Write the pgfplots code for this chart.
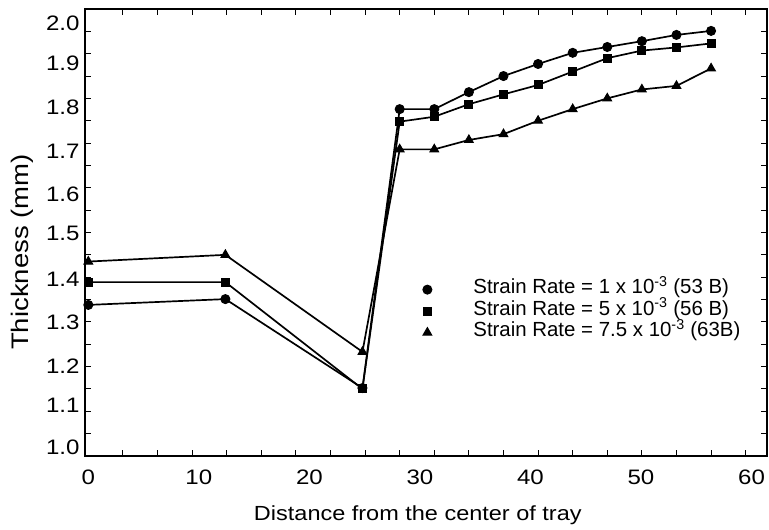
\documentclass[border=0pt]{standalone}
\usepackage{fontspec}
\setmainfont{Liberation Sans}
\newfontfamily\wide{Liberation Sans}[FakeStretch=1.15]
\usepackage{pgfplots}
\pgfplotsset{compat=1.18}
\begin{document}
\begin{tikzpicture}
\begin{axis}[
  scale only axis, width=682bp, height=447bp,
  xmin=-0.3, xmax=61.4, ymin=1.0, ymax=2.0,
  xtick={0,10,20,30,40,50,60},
  major x tick style={draw=none},
  minor xtick={3.13,6.26,9.39,12.52,15.65,18.78,21.91,25.04,28.17,31.3,34.43,37.56,40.69,43.82,46.95,50.08,53.21,56.34,59.47},
  ytick={1.019,1.113,1.202,1.299,1.395,1.497,1.586,1.682,1.780,1.879,1.969},
  yticklabels={1.0,1.1,1.2,1.3,1.4,1.5,1.6,1.7,1.8,1.9,2.0},
  major y tick style={draw=none},
  minor ytick={1.0,1.05,1.1,1.15,1.2,1.25,1.3,1.35,1.4,1.45,1.5,1.55,1.6,1.65,1.7,1.75,1.8,1.85,1.9,1.95,2.0},
  minor tick style={line width=1pt, black},
  minor tick length=6bp, major tick length=6bp,
  axis line style={line width=1.6pt},
  tick label style={font=\wide\fontsize{21}{21}\selectfont},
  /pgf/number format/assume math mode=true,
  yticklabel style={xshift=-2bp},
  xticklabel style={yshift=-10bp},
  xlabel={Distance from the center of tray},
  xlabel style={font=\wide\fontsize{20.5}{24}\selectfont, at={(axis description cs:0.488,0)}, anchor=base, yshift=-64bp},
  ylabel={Thickness (mm)},
  ylabel style={font=\wide\fontsize{24}{26}\selectfont, at={(axis description cs:0,0.456)}, anchor=base, yshift=56bp},
  legend style={draw=none, fill=none, at={(axis description cs:0.49,0.405)}, anchor=north west,
    font=\fontsize{20.5}{22}\selectfont, row sep=0.5bp, inner sep=0pt,
    nodes={inner sep=1bp, anchor=base west}},
  legend cell align=left,
  legend image code/.code={\path[draw=none] (0bp,0bp) -- (53bp,0bp); \draw[#1] plot coordinates {(8bp,4bp)};},
]
\addplot[black, line width=1.7pt, mark=*, mark size=4.5bp, mark options={fill=black, line width=1pt}] coordinates {
(0,1.338) (12.4,1.351) (24.8,1.152) (28.17,1.776) (31.3,1.776) (34.43,1.814) (37.56,1.850) (40.69,1.877) (43.82,1.902) (46.95,1.915) (50.08,1.928) (53.21,1.942) (56.34,1.951)
};
\addplot[black, line width=1.7pt, mark=square*, mark size=4bp, mark options={fill=black, line width=1pt}] coordinates {
(0,1.389) (12.4,1.389) (24.8,1.150) (28.17,1.748) (31.3,1.759) (34.43,1.787) (37.56,1.809) (40.69,1.830) (43.82,1.860) (46.95,1.890) (50.08,1.907) (53.21,1.914) (56.34,1.923)
};
\addplot[black, line width=1.7pt, mark=triangle*, mark size=5bp, mark options={fill=black, line width=1pt}] coordinates {
(0,1.435) (12.4,1.450) (24.8,1.233) (28.17,1.686) (31.3,1.686) (34.43,1.707) (37.56,1.720) (40.69,1.750) (43.82,1.776) (46.95,1.800) (50.08,1.820) (53.21,1.828) (56.34,1.867)
};
\legend{Strain Rate = 1 x 10\textsuperscript{-3} (53 B), Strain Rate = 5 x 10\textsuperscript{-3} (56 B), Strain Rate = 7.5 x 10\textsuperscript{-3} (63B)}
\end{axis}
\pgfresetboundingbox
\path[use as bounding box] ([xshift=-85bp,yshift=-74bp]current axis.south west) rectangle ([xshift=2bp,yshift=9bp]current axis.north east);
\end{tikzpicture}
\end{document}
